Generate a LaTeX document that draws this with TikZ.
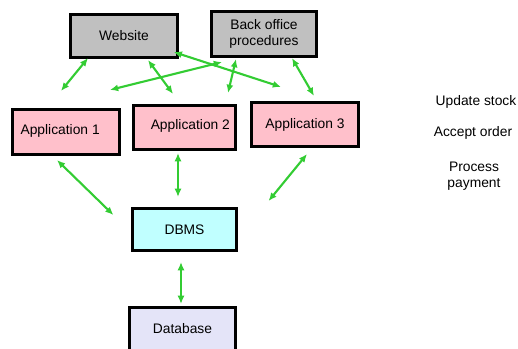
\documentclass[tikz,border=0pt]{standalone}
\usepackage{fontspec}
\setmainfont{Liberation Sans}
\usepackage{tikz}
\usetikzlibrary{arrows.meta,positioning,calc}

\definecolor{boxgray}{RGB}{192,192,192}
\definecolor{apppink}{RGB}{255,192,203}
\definecolor{dbmscyan}{RGB}{192,255,255}
\definecolor{dblav}{RGB}{228,228,248}
\definecolor{linkgreen}{RGB}{51,204,51}

\begin{document}
\begin{tikzpicture}[x=0.03cm, y=-0.03cm,
							every node/.style={font=\fontsize{11.8}{14}\selectfont, align=center},
							box/.style={draw, line width=2.4pt, minimum width=3.2cm, minimum height=1.3cm},
							link/.style={<->, >={Latex[length=7pt,width=6pt]}, draw=linkgreen, line width=1.8pt}]

			\useasboundingbox (0,0) rectangle (518,349);

			\node [box, fill=boxgray] (Web) at (124,36) {Website};

			\node [box, fill=boxgray, minimum width=3.15cm, minimum height=1.36cm] (Back) at (264,34) {Back office\\procedures};

			\node [box, fill=apppink, minimum height=1.36cm] (App1) at (66,132) {\raisebox{5pt}{Application 1\hspace{10pt}}};

			\node [box, fill=apppink, minimum width=3.05cm, minimum height=1.33cm] (App2) at (184.5,127.5) {\raisebox{5pt}{\hspace{10pt}Application 2}};

			\node [box, fill=apppink, minimum height=1.33cm] (App3) at (305,124.5) {Application 3};

			\node [box, fill=dbmscyan, minimum width=3.1cm, minimum height=1.27cm] (DBMS) at (184.5,229.5) {DBMS};

			\node [box, fill=dblav, minimum width=3.17cm, minimum height=1.3cm] (DB) at (182.5,329) {Database};

			\node (Upd) at (476,102) {Update stock};
			\node (Acc) at (473,133) {Accept order};
			\node (Pay) at (474,176) {Process\\payment};

			\draw[link] ([shift={(-36,-1)}]Web.south) -- ([shift={(-5,-17)}]App1.north);
			\draw[link] ([shift={(24,1)}]Web.south) -- ([shift={(-11.5,-10)}]App2.north);
			\draw[link] ([shift={(-5,-7)}]Web.south east) -- ([shift={(-24,-14)}]App3.north);

			\draw[link] ([shift={(-42,4)}]Back.south) -- ([shift={(44,-18)}]App1.north);
			\draw[link] ([shift={(-28,1)}]Back.south) -- ([shift={(43.5,-11)}]App2.north);
			\draw[link] ([shift={(28,0)}]Back.south) -- ([shift={(9,-5)}]App3.north);

			\draw[link] ([shift={(-9,4)}]App1.south) -- ([shift={(-18,-14.5)}]DBMS.west);
			\draw[link] ([shift={(-6.5,2)}]App2.south) -- ([shift={(-6.5,-10)}]DBMS.north);
			\draw[link] ([shift={(2,6)}]App3.south) -- ([shift={(31,-28.5)}]DBMS.east);

			\draw[link] ([shift={(-3.5,10)}]DBMS.south) -- ([shift={(-1.5,-2)}]DB.north);

		\end{tikzpicture}
\end{document}
